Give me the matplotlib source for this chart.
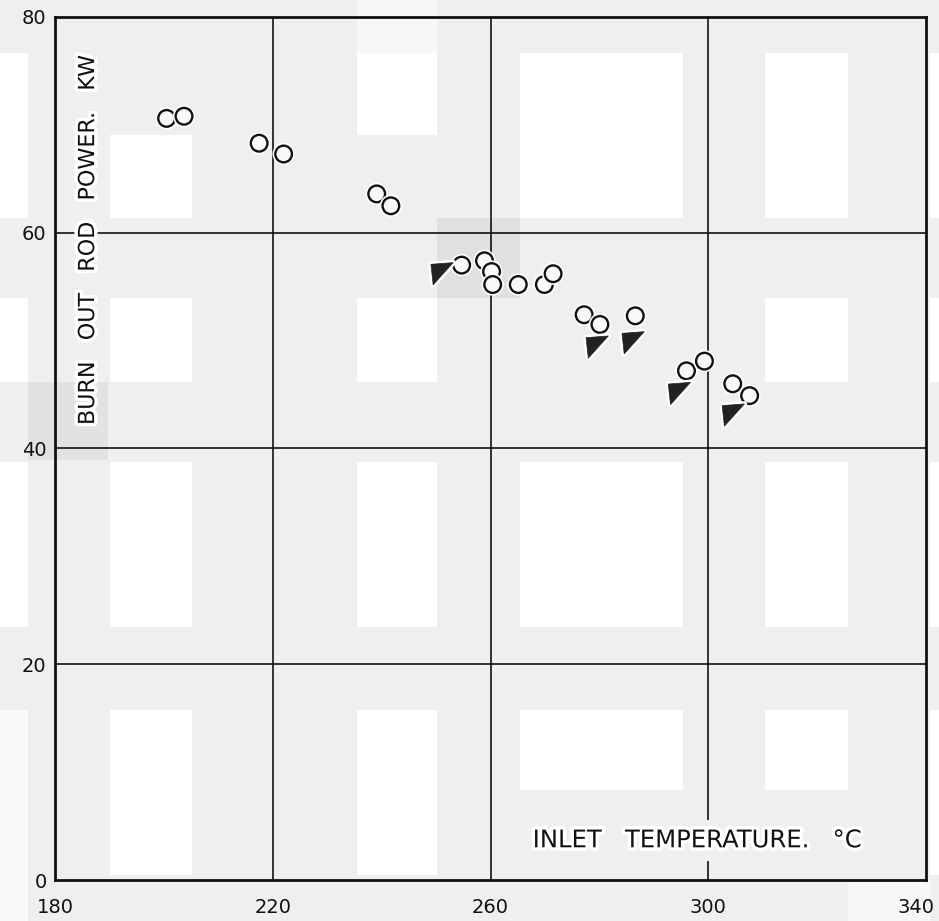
import numpy as np
import matplotlib
matplotlib.use("Agg")
import matplotlib.pyplot as plt
from matplotlib.patches import Rectangle
from matplotlib.path import Path
from matplotlib.transforms import ScaledTranslation
import matplotlib.patheffects as pe

# burn-out rod power vs inlet temperature
circle_temp = [200.5, 203.7, 217.5, 222.0, 239.1, 241.7, 254.7, 258.9, 260.2, 260.4,
               265.1, 269.9, 271.5, 277.2, 280.1, 286.6, 296.0, 299.3, 304.5, 307.6]
circle_power = [70.6, 70.8, 68.3, 67.3, 63.6, 62.5, 57.0, 57.4, 56.4, 55.2,
                55.2, 55.2, 56.2, 52.4, 51.5, 52.3, 47.2, 48.1, 46.0, 44.9]

tri_temp = [251.1, 279.6, 286.2, 294.7, 304.6]
tri_power = [56.2, 49.4, 49.8, 45.1, 43.1]

xticks = [180, 220, 260, 300, 340]
yticks = [0, 20, 40, 60, 80]

W, H = 939, 921
BG = '#efefef'

# scan blotches (pixel boxes x0, y0, x1, y1, colour)
blotches = [
    (0, 53, 28, 218, 'white'), (110, 135, 192, 218, 'white'), (357, 53, 437, 135, 'white'),
    (520, 53, 683, 218, 'white'), (765, 53, 848, 218, 'white'), (930, 53, 939, 218, 'white'),
    (0, 298, 28, 382, 'white'), (110, 298, 192, 382, 'white'), (357, 298, 437, 382, 'white'),
    (765, 298, 848, 382, 'white'), (930, 298, 939, 382, 'white'),
    (0, 462, 28, 627, 'white'), (110, 462, 192, 627, 'white'), (357, 462, 437, 627, 'white'),
    (520, 462, 683, 627, 'white'), (765, 462, 848, 627, 'white'), (930, 462, 939, 627, 'white'),
    (0, 710, 28, 921, '#fafafa'), (110, 710, 192, 875, 'white'), (357, 710, 437, 875, 'white'),
    (520, 710, 683, 790, 'white'), (765, 710, 848, 790, 'white'), (930, 710, 939, 875, 'white'),
    (357, 0, 437, 53, '#f7f7f7'), (848, 880, 930, 921, '#f7f7f7'),
    (437, 218, 520, 298, '#e0e0e0'), (28, 382, 108, 460, '#e2e2e2'),
]

fig = plt.figure(figsize=(W / 100, H / 100), dpi=100, facecolor=BG)
for x0, y0, x1, y1, c in blotches:
    fig.patches.append(Rectangle((x0 / W, 1 - y1 / H), (x1 - x0) / W, (y1 - y0) / H,
                                 transform=fig.transFigure, facecolor=c, edgecolor='none', zorder=-5))

ax = fig.add_axes([55 / W, 1 - 880 / H, 871 / W, 863 / H])
ax.patch.set_visible(False)
ax.set_xlim(180, 340)
ax.set_ylim(0, 80)
ax.set_xticks(xticks)
ax.set_yticks(yticks)
ax.tick_params(length=0, labelsize=14, colors='#111111')
ax.tick_params(axis='x', pad=13)
ax.tick_params(axis='y', pad=6)
# last x label sits a little inside the figure edge
last = ax.get_xticklabels()[-1]
last.set_transform(last.get_transform() + ScaledTranslation(-7 / 72, 0, fig.dpi_scale_trans))
for s in ax.spines.values():
    s.set_linewidth(2.0)
    s.set_color('#111111')

for xv in xticks[1:-1]:
    ax.axvline(xv, color='#111111', lw=1.2, zorder=1)
for yv in yticks[1:-1]:
    ax.axhline(yv, color='#111111', lw=1.2, zorder=1)

halo = [pe.withStroke(linewidth=4, foreground='white')]

tri = Path([(-1.0, 0.85), (1.0, 1.0), (-0.8, -1.0), (-1.0, 0.85)],
           [Path.MOVETO, Path.LINETO, Path.LINETO, Path.CLOSEPOLY])

ax.plot(circle_temp, circle_power, ls='none', marker='o', ms=12, mfc='#f8f8f8',
        mec='#111111', mew=1.7, zorder=3, path_effects=halo)
ax.plot(tri_temp, tri_power, ls='none', marker=tri, ms=16, mfc='#222222',
        mec='#222222', mew=0.5, zorder=3, path_effects=halo)

halo_txt = [pe.withStroke(linewidth=5, foreground='white')]
ax.text(0.038, 0.742, 'BURN   OUT   ROD   POWER.   KW', rotation=90, ha='center', va='center',
        fontsize=16, color='#111111', path_effects=halo_txt,
        transform=ax.transAxes, zorder=4)
ax.text(0.737, 0.046, 'INLET   TEMPERATURE.   °C', ha='center', va='center',
        fontsize=17.5, color='#111111', path_effects=halo_txt,
        transform=ax.transAxes, zorder=4,
        bbox=dict(facecolor=BG, edgecolor='none', pad=6))

fig.savefig('out.png', dpi=100, facecolor=BG)
